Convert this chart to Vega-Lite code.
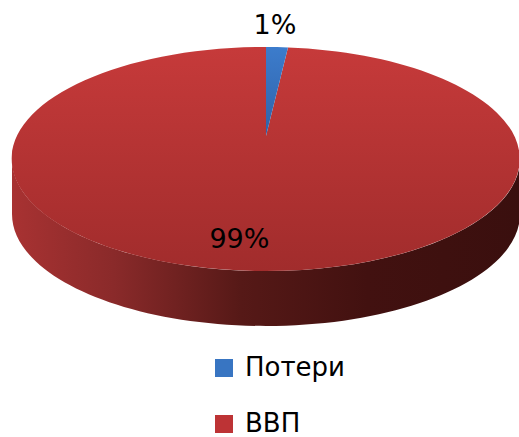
{
"$schema":"https://vega.github.io/schema/vega-lite/v6.json",
"width":508,"height":272,
"autosize":{"type":"none"},
"padding":{"left":12,"top":0,"right":0,"bottom":165},
"background":"white",
"view":{"stroke":null},
"data":{"values":[{"category":"Потери","value":1,"label":"1%"},{"category":"ВВП","value":99,"label":"99%"}]},
"layer":[
{"mark":{"type":"point","filled":true,"opacity":1,"size":0},
 "encoding":{"color":{"field":"category","type":"nominal","scale":{"domain":["Потери","ВВП"],"range":["#3875c2","#bd3335"]},
   "legend":{"title":null,"orient":"none","legendX":199,"legendY":355,"symbolType":"square","symbolSize":324,"symbolStrokeWidth":0,"labelFontSize":26,"labelFont":"DejaVu Sans","labelColor":"#000","labelOffset":8,"rowPadding":30,"labelLimit":200}}}},
{"transform":[{"filter":"datum.category==='ВВП'"}],
 "mark":{"type":"point","filled":true,"opacity":1,"size":258064,"shape":"M-1 .0906 A 1 .441 0 0 0 1 .0906 L 1 .307 A 1 .441 0 0 1 -1 .307 Z",
 "fill":{"gradient":"linear","x1":0,"y1":0,"x2":1,"y2":0,"stops":[{"offset":0,"color":"#a83232"},{"offset":0.2,"color":"#8a2a2a"},{"offset":0.45,"color":"#561917"},{"offset":0.7,"color":"#421110"},{"offset":1,"color":"#3a0f0e"}]}},
 "encoding":{}},
{"transform":[{"filter":"datum.category==='ВВП'"}],
 "mark":{"type":"point","filled":true,"opacity":1,"size":258064,"shape":"M0 0 L .0866 -.3487 A 1 .441 0 1 1 0 -.3504 Z",
 "fill":{"gradient":"linear","x1":0,"y1":0,"x2":0,"y2":1,"stops":[{"offset":0,"color":"#c63a3a"},{"offset":1,"color":"#a12c2c"}]}},
 "encoding":{}},
{"transform":[{"filter":"datum.category==='Потери'"}],
 "mark":{"type":"point","filled":true,"opacity":1,"size":258064,"shape":"M0 0 L .0866 -.3487 A 1 .441 0 0 0 0 -.3504 Z",
 "fill":{"gradient":"linear","x1":0,"y1":0,"x2":0,"y2":1,"stops":[{"offset":0,"color":"#3c7ccc"},{"offset":1,"color":"#2f62a8"}]}},
 "encoding":{}},
{"mark":{"type":"text","font":"DejaVu Sans","fontSize":27,"color":"#000","align":"center","baseline":"middle"},
 "encoding":{
  "text":{"field":"label","type":"nominal"},
  "theta":{"field":"value","type":"quantitative","stack":null,"scale":{"domain":[1,99],"range":[0.082,3.393]}},
  "radius":{"field":"value","type":"quantitative","scale":{"domain":[1,99],"range":[110,107],"zero":false}}}}
]
}
